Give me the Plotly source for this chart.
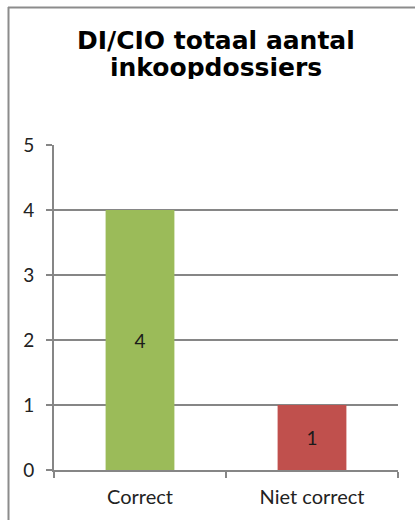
import plotly.graph_objects as go

categories = ["Correct", "Niet correct"]
values = [4, 1]
bar_colors = ["#9BBB59", "#C0504D"]
y_ticks = [0, 1, 2, 3, 4, 5]
title_lines = ["DI/CIO totaal aantal", "inkoopdossiers"]

W, H = 415, 520
L, R, T, B = 54, 17, 145, 50
pw, ph = W - L - R, H - T - B

def px_x(px):
    return (px - L) / pw

def px_y(py):
    return (H - B - py) / ph

fig = go.Figure(go.Bar(
    x=categories, y=values, width=0.4,
    marker=dict(color=bar_colors, line=dict(width=0)),
    text=[str(v) for v in values], textposition="inside",
    insidetextanchor="middle",
    textfont=dict(family="Lato", size=19, color="#1a1a1a"),
    cliponaxis=False,
))

title_font = dict(family="DejaVu Sans", size=25, color="#000000", weight="bold")
annotations = [
    dict(text=title_lines[0], xref="paper", yref="paper", x=px_x(216), y=px_y(40),
         xanchor="center", yanchor="middle", showarrow=False, font=title_font,
         height=24, valign="middle"),
    dict(text=title_lines[1], xref="paper", yref="paper", x=px_x(216), y=px_y(67),
         xanchor="center", yanchor="middle", showarrow=False, font=title_font,
         height=24, valign="middle"),
]

fig.update_layout(
    width=W, height=H,
    margin=dict(l=L, r=R, t=T, b=B),
    paper_bgcolor="white", plot_bgcolor="white",
    showlegend=False,
    annotations=annotations,
    xaxis=dict(showline=True, linecolor="#868686", linewidth=2, ticks="outside",
               tickson="boundaries", ticklen=6, tickcolor="#868686", tickwidth=2,
               ticklabelstandoff=8,
               tickfont=dict(family="Lato", size=20, color="#222222"), showgrid=False),
    yaxis=dict(range=[0, 5], tickvals=y_ticks, showline=True, linecolor="#868686", linewidth=2,
               ticks="outside", ticklen=6, tickcolor="#868686", tickwidth=2,
               ticklabelstandoff=8,
               showgrid=True, gridcolor="#868686", gridwidth=2, zeroline=False,
               tickfont=dict(family="Lato", size=19, color="#222222")),
    shapes=[
        dict(type="line", xref="paper", yref="paper", x0=px_x(8), x1=px_x(420),
             y0=px_y(7.5), y1=px_y(7.5), line=dict(color="#8c8c8c", width=2)),
        dict(type="line", xref="paper", yref="paper", x0=px_x(8.5), x1=px_x(8.5),
             y0=px_y(7), y1=px_y(525), line=dict(color="#8c8c8c", width=2)),
    ],
)

fig.write_html("out.html", config={"displayModeBar": False},
               post_script="document.body.style.margin='0';")
